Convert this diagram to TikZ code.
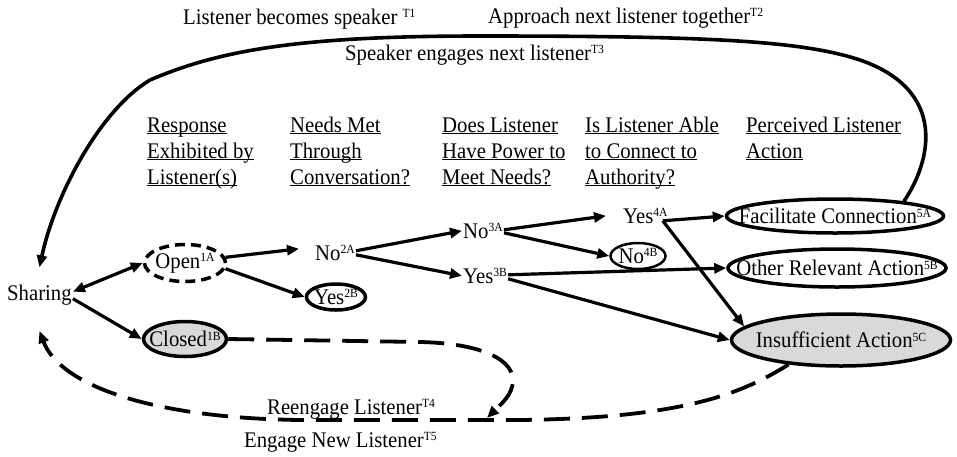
\documentclass[tikz,border=0pt]{standalone}
\usepackage{fontspec}
\setmainfont{Liberation Serif}[FakeStretch=0.93]
\usetikzlibrary{arrows.meta,shapes.geometric}
\newcommand\sps[1]{\raisebox{6.3pt}{\fontsize{12.5}{12}\selectfont #1}}
\newcommand\hul[1]{\underline{\smash{#1}}}
\begin{document}
\begin{tikzpicture}[x=1pt,y=-1pt,
  font=\fontsize{22.3}{26}\selectfont,
  >={Triangle[length=12pt,width=10pt]},
  arr/.style={line width=3.2pt,->},
  ell/.style={ellipse,draw,line width=3.5pt,inner sep=0pt},
  lbl/.style={inner sep=1pt,anchor=base west},
  head/.style={inner sep=0pt,anchor=north west,align=left},
  dsh/.style={line width=3.8pt,dash pattern=on 26pt off 12pt},
  graybox/.style={fill=black!15}
]
\useasboundingbox (0,0) rectangle (957,456);

% headings
\node[head] (h1) at (147,132) {\hul{Response}\\\hul{Exhibited by}\\\hul{Listener(s)}};
\node[head] (h2) at (290,132) {\hul{Needs Met}\\\hul{Through}\\\hul{Conversation?}};
\node[head] (h3) at (442,132) {\hul{Does Listener}\\\hul{Have Power to}\\\hul{Meet Needs?}};
\node[head] (h4) at (585,132) {\hul{Is Listener Able}\\\hul{to Connect to}\\\hul{Authority?}};
\node[head] (h5) at (746,132) {\hul{Perceived Listener}\\\hul{Action}};

% transition labels
\node[lbl] (t1) at (182,24) {Listener becomes speaker \sps{T1}};
\node[lbl] (t2) at (487,23) {Approach next listener together\sps{T2}};
\node[lbl] (t3) at (344,60) {Speaker engages next listener\sps{T3}};
\node[lbl] (t4) at (266,414) {Reengage Listener\sps{T4}};
\node[lbl] (t5) at (243,447) {Engage New Listener\sps{T5}};

% nodes
\node[lbl] (sharing) at (6,300) {Sharing};
\node[ell,dash pattern=on 10pt off 6pt,minimum width=81pt,minimum height=37pt,label={center:Open\sps{1A}}] (open) at (185,263) {};
\node[ell,graybox,minimum width=83pt,minimum height=35pt,label={center:Closed\sps{1B}}] (closed) at (185,339) {};
\node[lbl] (no2a) at (314,260) {No\sps{2A}};
\node[ell,minimum width=59pt,minimum height=26pt,label={center:Yes\sps{2B}}] (yes2b) at (336,297) {};
\node[lbl] (no3a) at (462,238) {No\sps{3A}};
\node[lbl] (yes3b) at (462,283) {Yes\sps{3B}};
\node[lbl] (yes4a) at (622,223) {Yes\sps{4A}};
\node[ell,line width=2.5pt,minimum width=55pt,minimum height=26pt,label={center:No\sps{4B}}] (no4b) at (638,256) {};
\node[ell,minimum width=217pt,minimum height=34pt,label={center:Facilitate Connection\sps{5A}}] (fac) at (835,216) {};
\node[ell,minimum width=218pt,minimum height=38pt,label={center:Other Relevant Action\sps{5B}}] (other) at (837,268) {};
\node[ell,graybox,minimum width=219pt,minimum height=52pt,label={center:Insufficient Action\sps{5C}}] (insuf) at (841,340) {};

% connectors
\draw[arr,<->] ([yshift=3pt]sharing.east) -- (open.west);
\draw[arr] ([yshift=-4pt]sharing.east) -- (closed.west);
\draw[arr] (open.8) -- ([xshift=-15pt,yshift=4pt]no2a.west);
\draw[arr] (open.-8) -- (yes2b.west);
\draw[arr] ([yshift=2pt]no2a.east) -- (no3a.west);
\draw[arr] ([yshift=-2pt]no2a.east) -- (yes3b.west);
\draw[arr] ([yshift=1pt]no3a.east) -- ([xshift=-16pt]yes4a.west);
\draw[arr] ([yshift=-2pt]no3a.east) -- (no4b.west);
\draw[arr] ([yshift=1pt]yes3b.east) -- (other.west);
\draw[arr] ([yshift=-3pt]yes3b.east) -- (insuf.west);
\coordinate (y4) at ([xshift=-6pt,yshift=-5pt]yes4a.east);
\draw[arr] (y4) -- (fac.west);
\draw[arr] (y4) -- (insuf.172);

% top loop
\draw[line width=3.6pt,->] (fac.12) .. controls (932,160) and (947,90) .. (860,60)
  .. controls (800,40) and (700,36) .. (480,36)
  .. controls (300,36) and (220,50) .. (150,80)
  .. controls (100,110) and (55,195) .. ([yshift=16pt]sharing.north);

% bottom dashed loops
\draw[dsh,->] (insuf.205) .. controls (740,395) and (680,418) .. (520,420) -- (300,420)
  .. controls (150,418) and (60,385) .. ([yshift=-25pt]sharing.south);
\coordinate (rtip) at (487,418);
\draw[dsh,->] (closed.east) -- (420,342) .. controls (470,343) and (512,355) .. (513,380)
  .. controls (513,395) and (500,405) .. (rtip);
\end{tikzpicture}
\end{document}
